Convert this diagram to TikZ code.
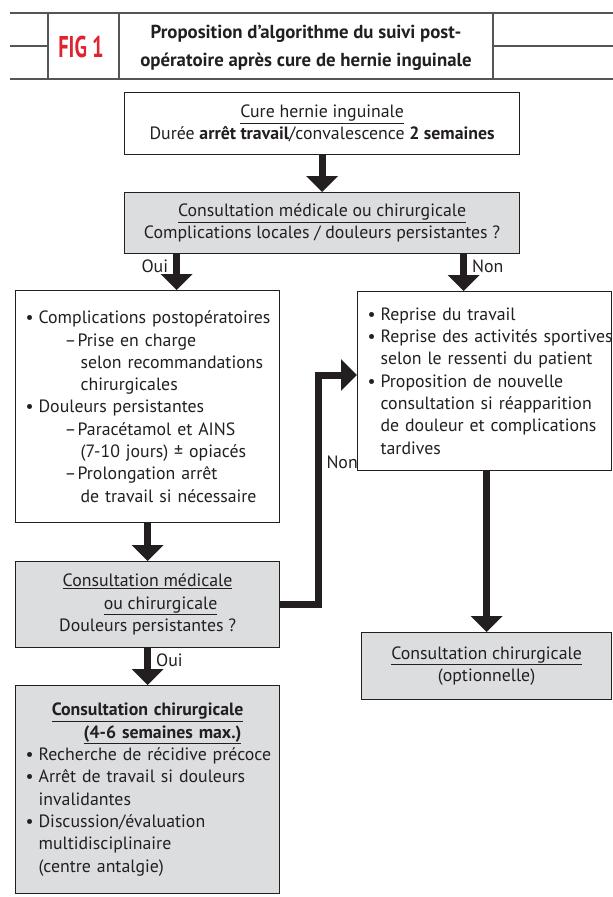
\documentclass[tikz,border=0pt]{standalone}
\usepackage{fontspec}
\setmainfont{PT Sans}
\newfontfamily\figfont[FakeStretch=0.68]{PT Sans}
\usetikzlibrary{arrows.meta}
\definecolor{ink}{HTML}{231F20}
\definecolor{boxgray}{HTML}{DCDDDF}
\definecolor{rulegray}{HTML}{555555}
\definecolor{figred}{HTML}{E0242F}
\newcommand{\bul}{\makebox[13pt][l]{\textbullet}}
\newcommand{\ind}{\hspace*{13pt}}
\newcommand{\tiret}{\hspace*{39pt}\makebox[13pt][l]{–}}
\newcommand{\suite}{\hspace*{55pt}}
\begin{document}
\begin{tikzpicture}[x=1pt,y=1pt,
  font=\fontsize{17.8}{22.3}\selectfont, text=ink,
  whitebox/.style={draw=ink, line width=1.2pt, fill=white, anchor=north west, inner xsep=10pt, inner ysep=0pt},
  graybox/.style={whitebox, fill=boxgray},
  bigarrow/.style={draw=ink, line width=7pt, -{Triangle[width=31pt,length=16pt]}},
  reponse/.style={inner sep=2pt, font=\fontsize{17.8}{20}\selectfont}]
\useasboundingbox (0,0) rectangle (613,-897);
% en-tete
\draw[rulegray, line width=1.5pt] (10,-13) -- (613,-13);
\draw[rulegray, line width=1.5pt] (10,-79) -- (613,-79);
\draw[rulegray, line width=1.5pt] (10,-46) -- (48,-46);
\draw[rulegray, line width=1.5pt] (493,-46) -- (613,-46);
\draw[rulegray, line width=1.5pt] (48,-13) -- (48,-79);
\draw[rulegray, line width=1.5pt] (119,-13) -- (119,-79);
\draw[rulegray, line width=1.5pt] (493,-13) -- (493,-79);
\node[font=\figfont\bfseries\fontsize{30}{30}\selectfont, text=figred] (fig) at (81,-47) {FIG 1};
\node[font=\bfseries\fontsize{18.8}{28}\selectfont, align=center] (titre) at (306,-48) {Proposition d’algorithme du suivi post-\\opératoire après cure de hernie inguinale};
% boites
\node[whitebox, minimum width=395pt, minimum height=62pt, align=center] (cure) at (124,-92)
  {\underline{Cure hernie inguinale}\\Durée \textbf{arrêt travail}/convalescence \textbf{2 semaines}};
\node[graybox, minimum width=395pt, minimum height=61pt, align=center] (consult1) at (124,-192)
  {\underline{Consultation médicale ou chirurgicale}\\Complications locales / douleurs persistantes ?};
\node[whitebox, minimum width=264pt, minimum height=232pt, text width=244pt, align=left] (compl) at (15,-290)
  {\mbox{\bul Complications postopératoires}\\
   \tiret Prise en charge\\
   \suite selon recommandations\\
   \suite chirurgicales\\
   \bul Douleurs persistantes\\
   \tiret Paracétamol et AINS\\
   \suite (7-10 jours) ± opiacés\\
   \tiret Prolongation arrêt\\
   \mbox{\suite de travail si nécessaire}};
\node[whitebox, minimum width=254pt, minimum height=179pt, text width=234pt, align=left] (reprise) at (357,-291)
  {\bul Reprise du travail\\
   \mbox{\bul Reprise des activités sportives}\\
   \mbox{\ind selon le ressenti du patient}\\
   \bul Proposition de nouvelle\\
   \mbox{\ind consultation si réapparition}\\
   \mbox{\ind de douleur et complications}\\
   \ind tardives};
\node[graybox, minimum width=264pt, minimum height=86pt, align=center] (consult2) at (15,-561)
  {\underline{Consultation médicale}\\\hspace*{26pt}\underline{ou chirurgicale}\\Douleurs persistantes ?};
\node[graybox, minimum width=250pt, minimum height=67pt, align=center] (option) at (361,-632)
  {\underline{Consultation chirurgicale}\\(optionnelle)};
\node[graybox, minimum width=264pt, minimum height=208pt, text width=244pt, align=left] (chir) at (15,-685)
  {\makebox[\linewidth]{\textbf{\underline{Consultation chirurgicale}}}\\
   \makebox[\linewidth]{\hspace*{30pt}\textbf{\underline{(4-6 semaines max.)}}}\\
   \mbox{\bul Recherche de récidive précoce}\\
   \mbox{\bul Arrêt de travail si douleurs}\\
   \ind invalidantes\\
   \bul Discussion/évaluation\\
   \ind multidisciplinaire\\
   \ind (centre antalgie)};
% fleches
\coordinate (coude) at (318,-375);
\draw[bigarrow] (cure) -- (consult1);
\draw[bigarrow] ([xshift=29pt]compl.north |- consult1.south) -- node[pos=0, reponse, anchor=north east, xshift=-3pt] {Oui} ([xshift=29pt]compl.north);
\draw[bigarrow] ([xshift=-21pt]reprise.north |- consult1.south) -- node[pos=0, reponse, anchor=north west, xshift=3pt] {Non} ([xshift=-21pt]reprise.north);
\draw[bigarrow] (compl) -- (consult2);
\draw[bigarrow] (consult2) -- node[pos=0, reponse, anchor=north west, xshift=3pt] {Oui} (chir);
\draw[bigarrow] (consult2.east) -| node[pos=0.81, reponse, anchor=west, xshift=3pt] {Non} (coude) -- (coude -| reprise.west);
\draw[bigarrow] (reprise.south -| option.north) -- (option.north);
\end{tikzpicture}
\end{document}
